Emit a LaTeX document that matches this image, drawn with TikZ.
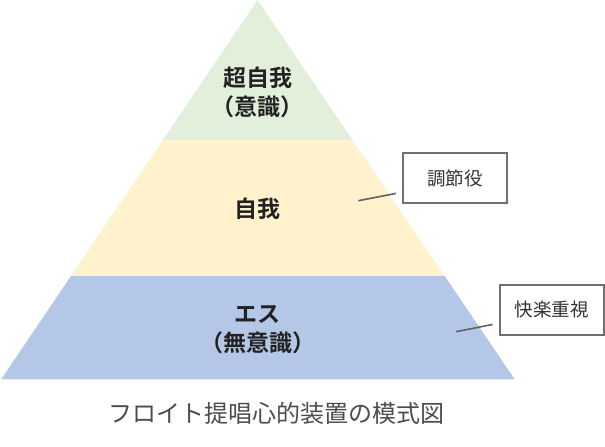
\documentclass[tikz,border=0pt]{standalone}
\usepackage{fontspec}
\newfontfamily\jpfont{Noto Sans CJK JP}[BoldFont={Noto Sans CJK JP Bold}]
\usetikzlibrary{calc}
\definecolor{superegogreen}{HTML}{E2EFDA}
\definecolor{egoyellow}{HTML}{FFF2CC}
\definecolor{idblue}{HTML}{B4C7E7}
\definecolor{boxgray}{HTML}{707070}
\definecolor{textdark}{HTML}{222222}
\begin{document}
\begin{tikzpicture}[x=1pt,y=-1pt]
            \tikzset{
                layer label/.style={align=center,text=textdark,font=\jpfont\bfseries\fontsize{23}{29}\selectfont},
                rolebox/.style={draw=boxgray,line width=2pt,fill=white,minimum width=104pt,minimum height=50pt,inner sep=0pt,font=\jpfont\fontsize{18.5}{22}\selectfont,text=black!80},
                pointer/.style={draw=black!62,line width=1.6pt,shorten >=6pt},}
            \useasboundingbox (0,0) rectangle (605,447);
            \def\pyramid{(257.5,0) -- (514.7,379.3) -- (1.2,379.3) -- cycle}
            \begin{scope}
                \clip \pyramid;
                \fill [superegogreen] (0,-1) rectangle (605,140);
                \fill [egoyellow] (0,140) rectangle (605,276);
                \fill [idblue] (0,276) rectangle (605,380);
            \end{scope}
            \node [layer label] (superego) at (257.5,92) {超自我\\（意識）};
            \node [layer label] (ego) at (257.5,209) {自我};
            \node [layer label] (id) at (257.5,330) {エス\\（無意識）};
            % side notes
            \node [rolebox] (mediator) at (454.8,178) {調節役};
            \node [rolebox] (pleasure) at (551.5,309.5) {快楽重視};
            \coordinate (egoside) at (358.3,200.7);
            \coordinate (idside) at (456,331.7);
            \draw [pointer] (egoside) -- ([yshift=-14.3pt]mediator.west);
            \draw [pointer] (idside) -- ([yshift=-13.8pt]pleasure.west);
            \node [text=black!70,font=\jpfont\fontsize{24}{28}\selectfont] (caption) at (276,413.5) {フロイト提唱心的装置の模式図};
        \end{tikzpicture}
\end{document}
